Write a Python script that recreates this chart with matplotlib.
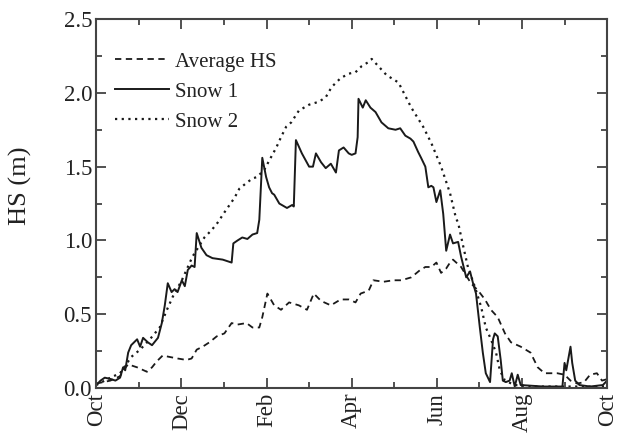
import numpy as np
import matplotlib
matplotlib.use("Agg")
import matplotlib.pyplot as plt
from matplotlib.ticker import MultipleLocator, FormatStrFormatter

plt.rcParams['font.family'] = ['Liberation Serif', 'DejaVu Serif']

# x = months since 1 October, y = snow height (m)
month_labels = ["Oct", "Dec", "Feb", "Apr", "Jun", "Aug", "Oct"]

avg_x = [0.0, 0.33, 0.56, 0.63, 0.75, 0.96, 1.19, 1.31, 1.42, 1.56, 1.73, 1.91, 2.12, 2.24,
         2.36, 2.50, 2.66, 2.83, 3.01, 3.18, 3.32, 3.53, 3.67, 3.83, 3.90, 4.02, 4.18, 4.34,
         4.53, 4.76, 4.95, 5.11, 5.28, 5.51, 5.74, 5.93, 6.09, 6.21, 6.40, 6.51, 6.75, 6.98,
         7.17, 7.40, 7.61, 7.73, 7.87, 7.99, 8.10, 8.22, 8.31, 8.38, 8.57, 8.80, 8.97, 9.13,
         9.27, 9.43, 9.60, 9.74, 9.97, 10.20, 10.37, 10.53, 10.83, 11.00, 11.14, 11.30, 11.46,
         11.60, 11.76, 11.88, 12.0]
avg_hs = [0.03, 0.05, 0.08, 0.12, 0.16, 0.14, 0.11, 0.14, 0.18, 0.22, 0.21, 0.20, 0.19, 0.20,
          0.26, 0.28, 0.31, 0.35, 0.37, 0.44, 0.43, 0.44, 0.41, 0.41, 0.48, 0.64, 0.56, 0.53,
          0.58, 0.56, 0.53, 0.64, 0.59, 0.56, 0.60, 0.60, 0.58, 0.64, 0.66, 0.73, 0.72, 0.73,
          0.73, 0.75, 0.80, 0.82, 0.82, 0.85, 0.78, 0.81, 0.85, 0.87, 0.82, 0.71, 0.66, 0.60,
          0.53, 0.48, 0.37, 0.31, 0.28, 0.24, 0.14, 0.10, 0.10, 0.09, 0.05, 0.03, 0.04,
          0.09, 0.10, 0.05, 0.06]

snow1_x = [0.00, 0.10, 0.20, 0.35, 0.45, 0.56, 0.63, 0.68, 0.75, 0.82, 0.96, 1.03, 1.10, 1.21,
           1.31, 1.45, 1.54, 1.61, 1.68, 1.77, 1.84, 1.91, 2.01, 2.08, 2.15, 2.24, 2.31, 2.36,
           2.47, 2.59, 2.73, 2.97, 3.18, 3.22, 3.32, 3.43, 3.55, 3.67, 3.78, 3.83, 3.90, 3.99,
           4.06, 4.13, 4.18, 4.30, 4.48, 4.60, 4.64, 4.69, 4.83, 5.00, 5.09, 5.16, 5.28, 5.39,
           5.51, 5.63, 5.70, 5.81, 5.93, 6.00, 6.09, 6.14, 6.16, 6.26, 6.33, 6.44, 6.56, 6.70,
           6.86, 7.03, 7.14, 7.26, 7.38, 7.45, 7.56, 7.63, 7.73, 7.80, 7.87, 7.92, 7.99, 8.08,
           8.15, 8.22, 8.31, 8.38, 8.50, 8.57, 8.69, 8.78, 8.85, 8.92, 9.01, 9.08, 9.15, 9.25,
           9.32, 9.36, 9.43, 9.50, 9.55, 9.62, 9.71, 9.76, 9.83, 9.90, 9.97, 10.5, 10.95, 11.00,
           11.04, 11.14, 11.18, 11.25, 11.35, 11.60, 11.90, 12.0]
snow1_hs = [0.02, 0.05, 0.07, 0.06, 0.05, 0.07, 0.14, 0.12, 0.24, 0.29, 0.33, 0.28, 0.34, 0.31,
            0.29, 0.34, 0.44, 0.56, 0.71, 0.65, 0.67, 0.65, 0.73, 0.69, 0.80, 0.83, 0.82, 1.05,
            0.95, 0.90, 0.88, 0.87, 0.85, 0.98, 1.00, 1.02, 1.01, 1.04, 1.05, 1.14, 1.56, 1.43,
            1.36, 1.32, 1.31, 1.25, 1.22, 1.24, 1.23, 1.68, 1.59, 1.50, 1.50, 1.59, 1.53, 1.49,
            1.52, 1.46, 1.61, 1.63, 1.59, 1.58, 1.59, 1.70, 1.96, 1.90, 1.95, 1.90, 1.87, 1.80,
            1.76, 1.75, 1.76, 1.71, 1.69, 1.67, 1.60, 1.56, 1.50, 1.36, 1.37, 1.36, 1.26, 1.34,
            1.18, 0.93, 1.04, 0.98, 0.99, 0.89, 0.75, 0.79, 0.71, 0.64, 0.41, 0.24, 0.10, 0.04,
            0.33, 0.37, 0.35, 0.19, 0.05, 0.04, 0.05, 0.10, 0.01, 0.09, 0.02, 0.01, 0.01, 0.17,
            0.12, 0.28, 0.17, 0.05, 0.02, 0.01, 0.02, 0.05]

snow2_x = [0.0, 0.33, 0.56, 0.75, 0.82, 1.03, 1.26, 1.49, 1.66, 1.80, 2.01, 2.26, 2.54, 2.71,
           2.85, 3.01, 3.13, 3.25, 3.36, 3.53, 3.67, 3.78, 3.95, 4.06, 4.23, 4.34, 4.46, 4.58,
           4.76, 5.00, 5.23, 5.39, 5.53, 5.74, 5.93, 6.09, 6.23, 6.40, 6.47, 6.82, 7.10, 7.40,
           7.68, 7.87, 8.10, 8.31, 8.45, 8.50, 8.62, 8.73, 8.90, 9.04, 9.15, 9.27, 9.39, 9.48,
           9.60, 9.83, 10.3, 11.0, 11.5, 12.0]
snow2_hs = [0.02, 0.07, 0.10, 0.18, 0.21, 0.26, 0.33, 0.41, 0.53, 0.62, 0.73, 0.89, 1.02, 1.07,
            1.12, 1.19, 1.24, 1.29, 1.35, 1.39, 1.42, 1.43, 1.48, 1.54, 1.63, 1.70, 1.77, 1.80,
            1.88, 1.92, 1.94, 1.97, 2.04, 2.10, 2.13, 2.14, 2.18, 2.21, 2.23, 2.12, 2.07, 1.90,
            1.77, 1.66, 1.50, 1.32, 1.15, 1.12, 0.96, 0.82, 0.68, 0.55, 0.41, 0.33, 0.24, 0.12,
            0.05, 0.02, 0.01, 0.01, 0.01, 0.01]

fig = plt.figure(figsize=(6.17, 4.34), dpi=100)
ax = fig.add_axes([0.156, 0.106, 0.828, 0.850])

lc = '#1a1a1a'
ax.plot(avg_x, avg_hs, color=lc, lw=1.3, linestyle=(0, (3.5, 2.5)), label='Average HS')
ax.plot(snow1_x, snow1_hs, color=lc, lw=1.4, label='Snow 1')
ax.plot(snow2_x, snow2_hs, color=lc, lw=1.6, linestyle=(0, (1, 2)), label='Snow 2')

ax.set_xlim(0, 12)
ax.set_ylim(0, 2.5)
ax.set_xticks(np.arange(0, 13, 2))
ax.set_xticklabels(month_labels, rotation=90)
ax.xaxis.set_minor_locator(MultipleLocator(1))
ax.yaxis.set_major_locator(MultipleLocator(0.5))
ax.yaxis.set_minor_locator(MultipleLocator(0.25))
ax.yaxis.set_major_formatter(FormatStrFormatter('%.1f'))

ax.tick_params(which='both', direction='in', top=True, right=True, colors='#333333',
               labelcolor='#222222', labelsize=16.5, width=1.2)
ax.tick_params(which='major', length=7)
ax.tick_params(which='minor', length=4)
ax.tick_params(axis='y', pad=3)
for s in ax.spines.values():
    s.set_linewidth(1.5)
    s.set_color('#444444')

ax.set_ylabel('HS (m)', fontsize=19, color='#222222')
ax.yaxis.set_label_coords(-0.125, 0.547)

leg = ax.legend(loc='upper left', frameon=False, fontsize=15, handlelength=2.6,
                handletextpad=0.3, labelspacing=0.5, borderaxespad=0.0,
                bbox_to_anchor=(0.02, 0.933))
for t in leg.get_texts():
    t.set_color('#222222')

plt.savefig("out.png", dpi=100)
